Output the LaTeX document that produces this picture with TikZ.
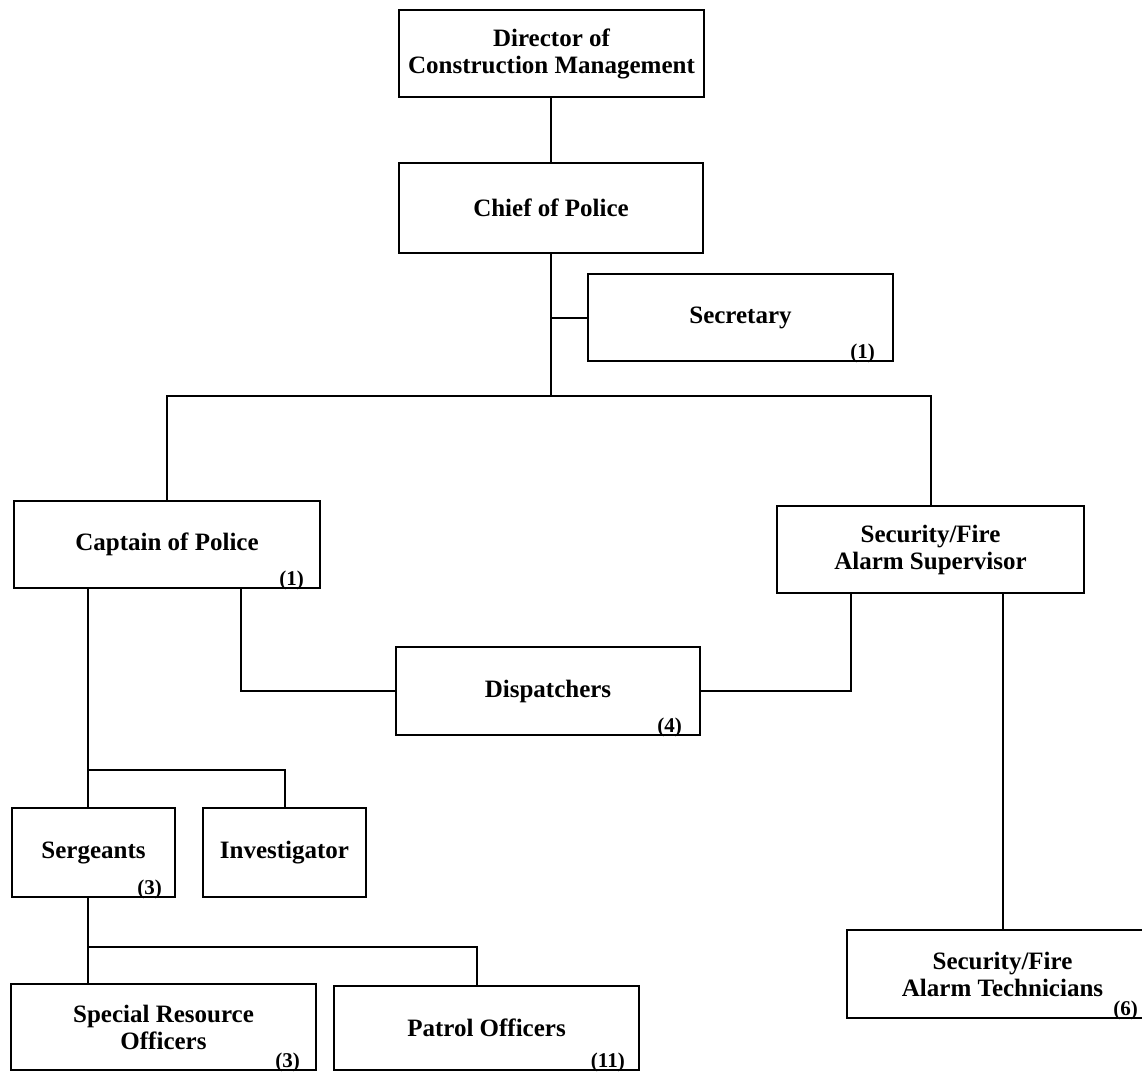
\documentclass[tikz,border=0pt]{standalone}
\usepackage{fontspec}
\setmainfont{Liberation Serif}
\begin{document}
\begin{tikzpicture}[x=1pt,y=-1pt,
  box/.style={draw, line width=2pt, inner sep=2pt, align=center,
    font=\fontsize{25}{27}\selectfont\bfseries},
  cnt/.style={inner sep=0pt, anchor=base east,
    font=\fontsize{21}{22}\selectfont\bfseries},
  link/.style={line width=2pt}]
\useasboundingbox (0,0) rectangle (1142,1072);
\clip (0,0) rectangle (1142,1072);
\fill[white] (0,0) rectangle (1142,1072);

% positions
\node[box, minimum width=305pt, minimum height=87pt] (dir) at (551.5,53.5)
  {Director of\\Construction Management};
\node[box, minimum width=304pt, minimum height=90pt] (chief) at (551,208)
  {Chief of Police};
\node[box, minimum width=305pt, minimum height=87pt] (sec) at (740.5,317.5)
  {Secretary};
\node[box, minimum width=306pt, minimum height=87pt] (cap) at (167,544.5)
  {Captain of Police};
\node[box, minimum width=307pt, minimum height=87pt] (sup) at (930.5,549.5)
  {Security/Fire\\Alarm Supervisor};
\node[box, minimum width=304pt, minimum height=88pt] (disp) at (548,691)
  {Dispatchers};
\node[box, minimum width=163pt, minimum height=89pt] (serg) at (93.5,852.5)
  {Sergeants};
\node[box, minimum width=163pt, minimum height=89pt] (inv) at (284.5,852.5)
  {Investigator};
\node[box, minimum width=305pt, minimum height=86pt] (sro) at (163.5,1027)
  {Special Resource\\Officers};
\node[box, minimum width=305pt, minimum height=84pt] (pat) at (486.5,1028)
  {Patrol Officers};
\node[box, minimum width=311pt, minimum height=88pt] (tech) at (1002.5,974)
  {Security/Fire\\Alarm Technicians};

% staff counts
\node[cnt] (secn)  at ([xshift=-19pt,yshift=4pt]sec.south east)  {(1)};
\node[cnt] (capn)  at ([xshift=-17pt,yshift=4pt]cap.south east)  {(1)};
\node[cnt] (dispn) at ([xshift=-19pt,yshift=4pt]disp.south east) {(4)};
\node[cnt] (sergn) at ([xshift=-14pt,yshift=4pt]serg.south east) {(3)};
\node[cnt] (sron)  at ([xshift=-17pt,yshift=4pt]sro.south east)  {(3)};
\node[cnt] (patn)  at ([xshift=-15pt,yshift=4pt]pat.south east)  {(11)};
\node[cnt] (techn) at ([xshift=-21pt,yshift=4pt]tech.south east) {(6)};

% connectors
\draw[link] (chief.north) -- (chief.north |- dir.south);
\path (chief.south) ++(0,142) coordinate (split);
\draw[link] (chief.south) -- (split);
\draw[link] (sec.west -| chief.south) -- (sec.west);
\draw[link] (cap.north) |- (split) -| (sup.north);
\draw[link] ([xshift=228pt]cap.south west) |- (disp.west);
\draw[link] ([xshift=75pt]sup.south west) |- (disp.east);
\draw[link] (tech.north) -- (tech.north |- sup.south);
\draw[link] ([xshift=75pt]cap.south west) -- ([xshift=77pt]serg.north west);
\path ([xshift=77pt]serg.north west) ++(0,-37) coordinate (sgbar);
\draw[link] (sgbar) -| (inv.north);
\draw[link] ([xshift=77pt]serg.south west) -- ([xshift=78pt]sro.north west);
\path ([xshift=77pt]serg.south west) ++(0,49) coordinate (offbar);
\draw[link] (offbar) -| ([xshift=144pt]pat.north west);
\end{tikzpicture}
\end{document}
